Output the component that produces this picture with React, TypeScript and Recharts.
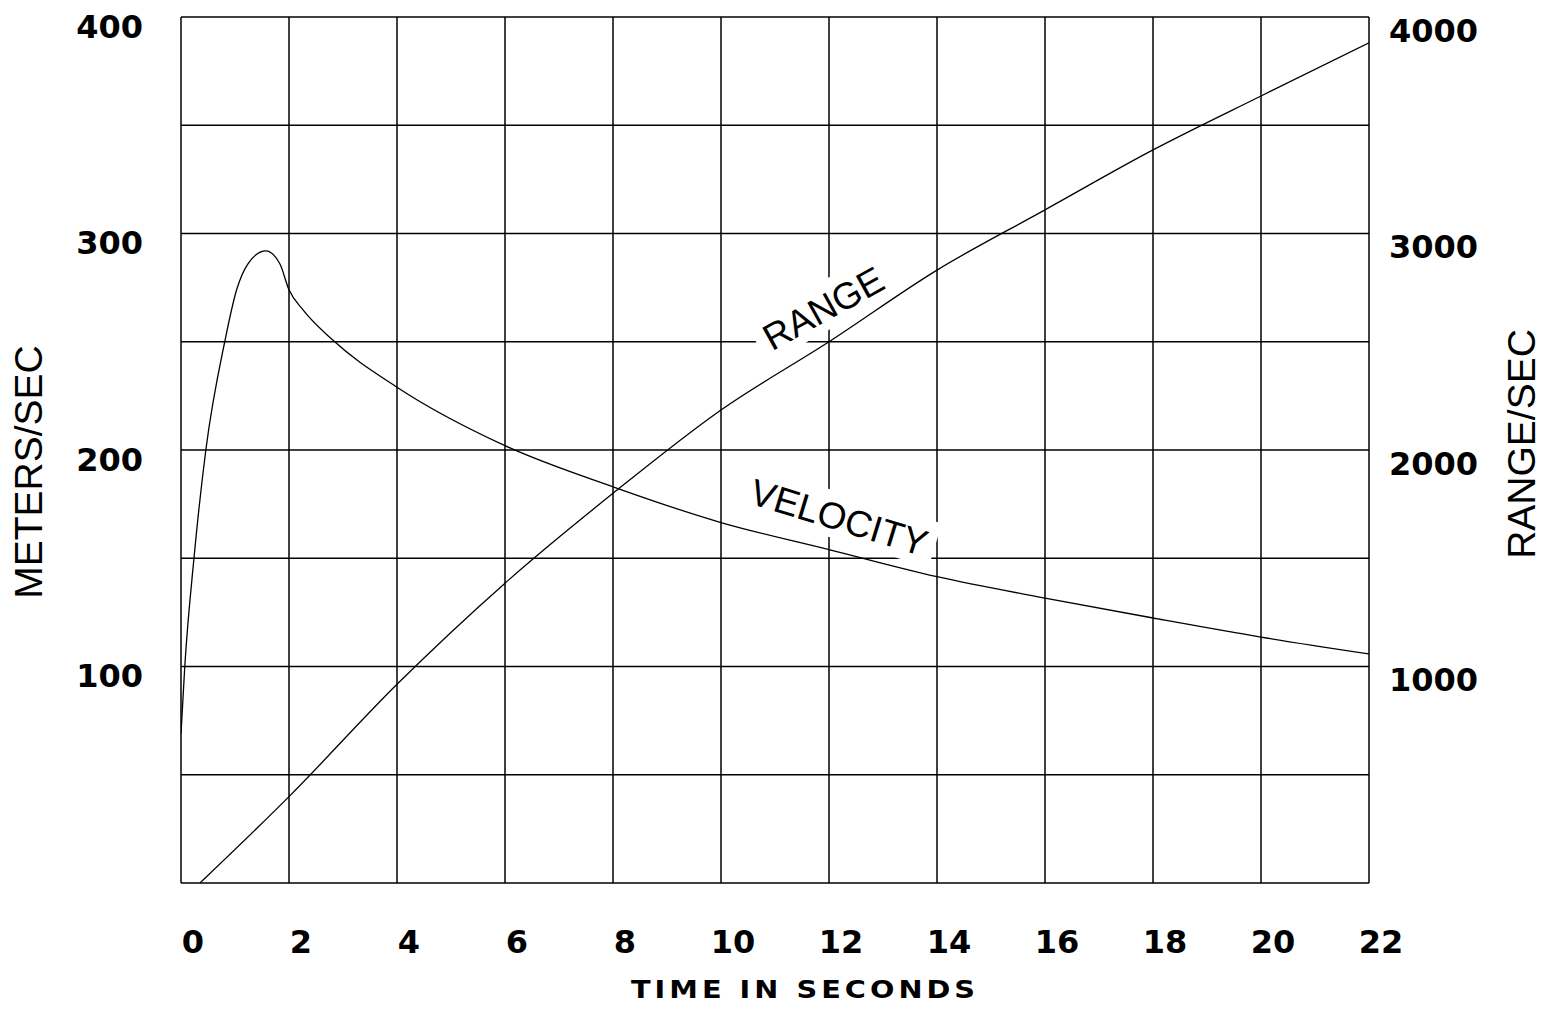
import { LineChart, Line, XAxis, YAxis, CartesianGrid, ReferenceDot } from 'recharts';

// axes
const timeTicks = [0, 2, 4, 6, 8, 10, 12, 14, 16, 18, 20, 22];
const speedTicks = [0, 50, 100, 150, 200, 250, 300, 350, 400];
const speedLabels = [100, 200, 300, 400];
const rangeTicks = [1000, 2000, 3000, 4000];

// velocity curve (m/s)
const velocityTime = [0, 0.07, 0.24, 0.46, 0.81, 1.03, 1.24, 1.57, 1.83, 2.0, 2.26, 2.8, 4, 6, 8, 10, 12, 14, 16, 18, 20, 22];
const velocityMs = [69, 100, 150, 200, 250, 274, 286, 292, 286, 274, 264.7, 251, 229, 202, 183, 166.5, 154, 141.5, 131.6, 122.4, 113.6, 105.8];

// range curve
const rangeTime = [0.35, 2, 4, 6, 8, 10, 12, 14, 16, 18, 20, 22];
const rangeValue = [0, 399, 918, 1385, 1800, 2185, 2500, 2831, 3109, 3386, 3635, 3881];

const velocityData = velocityTime.map((t, i) => ({ t, v: velocityMs[i] }));
const rangeData = rangeTime.map((t, i) => ({ t, r: rangeValue[i] }));

const NUM_FONT = '"DejaVu Sans", sans-serif';
const TXT_FONT = '"Liberation Sans", Arial, sans-serif';

function LeftTick(props: any) {
  const { x, y, payload } = props;
  if (!speedLabels.includes(payload.value)) return <g />;
  return (
    <text x={x} y={y + 9} dy="0.36em" textAnchor="end" fontFamily={NUM_FONT} fontWeight="bold" fontSize={32} fill="#000">
      {payload.value}
    </text>
  );
}

function RightTick(props: any) {
  const { x, y, payload } = props;
  return (
    <text x={x} y={y + 13} dy="0.36em" textAnchor="start" fontFamily={NUM_FONT} fontWeight="bold" fontSize={32} fill="#000">
      {payload.value}
    </text>
  );
}

function TimeTick(props: any) {
  const { x, y, payload } = props;
  return (
    <text x={x + 12} y={y} dy="0.71em" textAnchor="middle" fontFamily={NUM_FONT} fontWeight="bold" fontSize={32} fill="#000">
      {payload.value}
    </text>
  );
}

function CurveLabel({ cx, cy, text, angle, w }: any) {
  return (
    <g transform={`translate(${cx},${cy}) rotate(${angle})`}>
      <rect x={-w / 2} y={-24} width={w} height={46} fill="#fff" />
      <text x={0} y={0} dy="0.36em" textAnchor="middle" fontFamily={TXT_FONT} fontSize={37} fill="#000">
        {text}
      </text>
    </g>
  );
}

export default function App() {
  return (
    <div style={{ position: 'absolute', left: 0, top: 0, background: '#fff' }}>
      <LineChart width={1552} height={1011} margin={{ top: 17, right: 0, bottom: 0, left: 0 }}>
        <CartesianGrid stroke="#000" strokeWidth={1.5} />
        <XAxis
          type="number"
          dataKey="t"
          domain={[0, 22]}
          ticks={timeTicks}
          interval={0}
          height={128}
          axisLine={false}
          tickLine={false}
          tickSize={0}
          tickMargin={47}
          tick={TimeTick}
          allowDataOverflow
          label={{
            value: 'TIME IN SECONDS',
            content: ({ viewBox }: any) => {
              const cx = viewBox.x + viewBox.width / 2 + 30;
              const cy = viewBox.y + viewBox.height - 13;
              return (
                <g transform={`translate(${cx},${cy}) scale(1.15,1)`}>
                  <text
                    x={0}
                    y={0}
                    textAnchor="middle"
                    fontFamily={NUM_FONT}
                    fontWeight="bold"
                    fontSize={25}
                    letterSpacing={3.5}
                    fill="#000"
                  >
                    TIME IN SECONDS
                  </text>
                </g>
              );
            },
          }}
        />
        <YAxis
          domain={[0, 400]}
          ticks={speedTicks}
          interval={0}
          width={181}
          axisLine={false}
          tickLine={false}
          tickSize={0}
          tickMargin={38}
          tick={LeftTick}
          label={{
            value: 'METERS/SEC',
            content: () => (
              <text
                x={28}
                y={472}
                transform="rotate(-90 28 472)"
                textAnchor="middle"
                dominantBaseline="central"
                fontFamily={TXT_FONT}
                fontSize={39}
                fill="#000"
              >
                METERS/SEC
              </text>
            ),
          }}
        />
        <YAxis
          yAxisId="right"
          orientation="right"
          domain={[0, 4000]}
          ticks={rangeTicks}
          interval={0}
          width={183}
          axisLine={false}
          tickLine={false}
          tickSize={0}
          tickMargin={20}
          tick={RightTick}
          label={{
            value: 'RANGE/SEC',
            content: ({ viewBox }: any) => {
              const cx = viewBox.x + 152;
              return (
                <text
                  x={cx}
                  y={444}
                  transform={`rotate(-90 ${cx} 444)`}
                  textAnchor="middle"
                  dominantBaseline="central"
                  fontFamily={TXT_FONT}
                  fontSize={39}
                  fill="#000"
                >
                  RANGE/SEC
                </text>
              );
            },
          }}
        />
        <ReferenceDot
          yAxisId="right"
          x={11.89}
          y={2656}
          shape={(p: any) => <CurveLabel cx={p.cx} cy={p.cy} text="RANGE" angle={-29} w={150} />}
        />
        <ReferenceDot
          x={12.19}
          y={169}
          shape={(p: any) => <CurveLabel cx={p.cx} cy={p.cy} text="VELOCITY" angle={17} w={200} />}
        />
        <Line
          data={velocityData}
          dataKey="v"
          type="monotone"
          stroke="#000"
          strokeWidth={1.3}
          dot={false}
          isAnimationActive={false}
        />
        <Line
          data={rangeData}
          dataKey="r"
          yAxisId="right"
          type="monotone"
          stroke="#000"
          strokeWidth={1.3}
          dot={false}
          isAnimationActive={false}
        />
      </LineChart>
    </div>
  );
}
